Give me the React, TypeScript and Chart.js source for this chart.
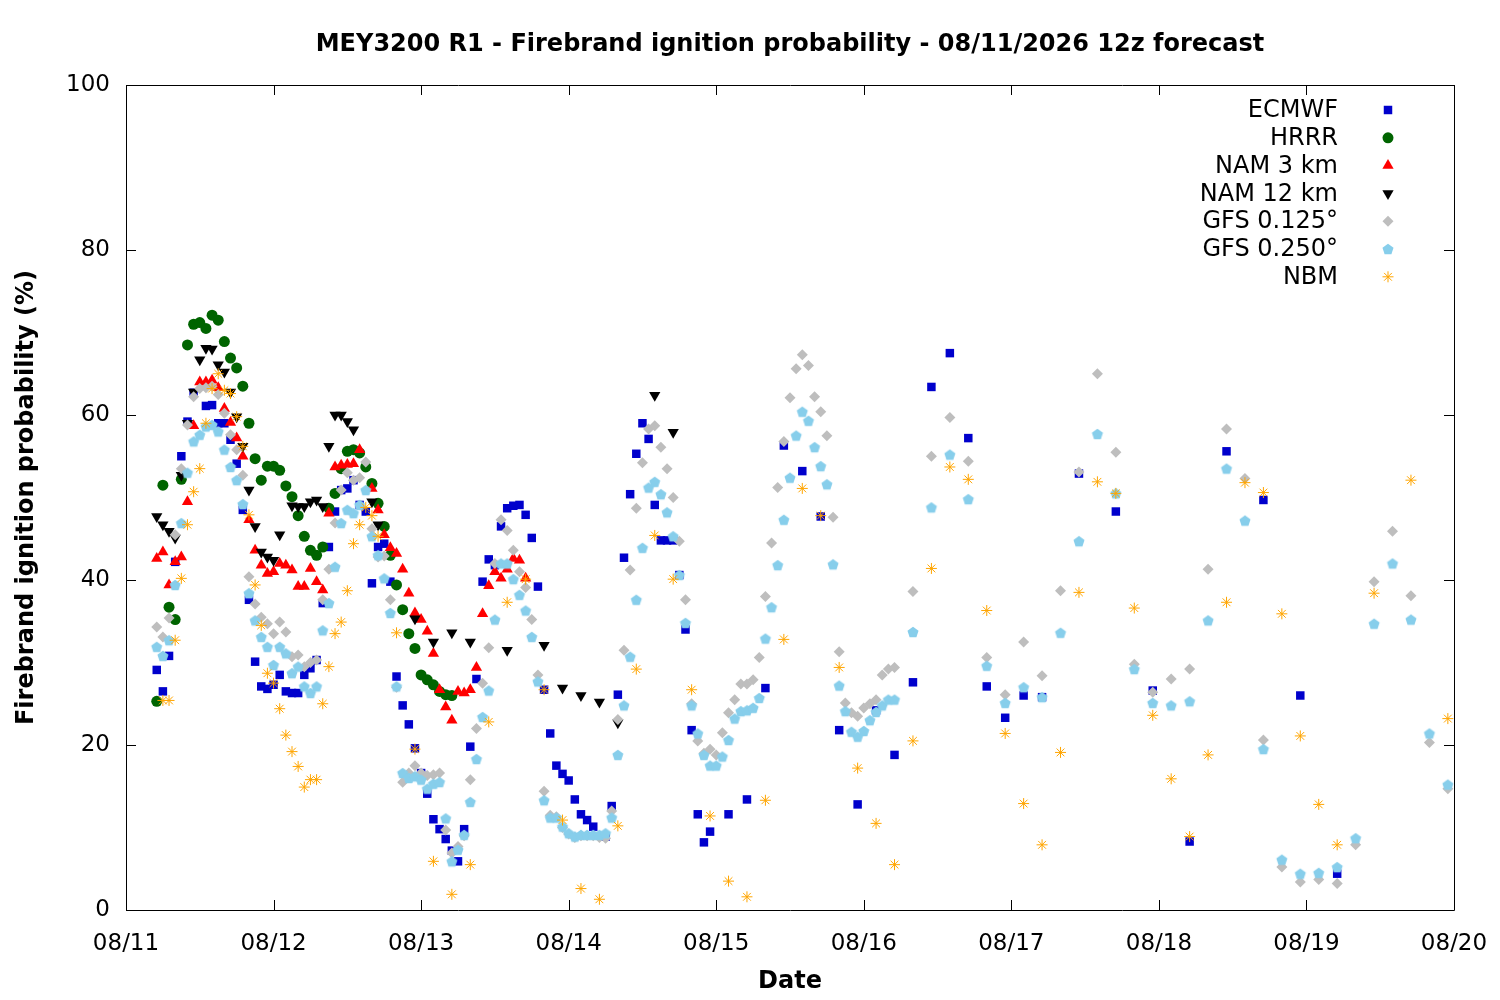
import { useEffect, useRef } from "react";
import { Chart, registerables, ChartConfiguration, Plugin } from "chart.js";
import { drawPoint } from "chart.js/helpers";

Chart.register(...registerables);

const FONT = "'DejaVu Sans', sans-serif";

const dateLabels = ["08/11", "08/12", "08/13", "08/14", "08/15", "08/16", "08/17", "08/18", "08/19", "08/20"];
const yTicks = [0, 20, 40, 60, 80, 100];

// [hours since 08/11 00, probability %]
const ecmwf: [number, number][] = [
  [5, 29.1], [6, 26.5], [7, 30.8], [8, 42.2], [9, 55.0], [10, 59.2], [11, 62.7], [13, 61.1], [14, 61.2], [15, 59.0],
  [16, 59.0], [17, 57.0], [18, 54.1], [19, 48.5], [20, 37.6], [21, 30.1], [22, 27.1], [23, 26.8], [24, 27.3], [25, 28.5],
  [26, 26.5], [27, 26.3], [28, 26.3], [29, 28.5], [30, 29.3], [31, 30.3], [32, 37.2], [33, 44.0], [34, 48.3], [35, 50.9],
  [36, 51.1], [37, 52.1], [38, 49.1], [39, 48.3], [40, 39.6], [41, 44.0], [42, 44.4], [43, 39.8], [44, 28.3], [45, 24.8],
  [46, 22.5], [47, 19.6], [48, 16.6], [49, 14.1], [50, 11.0], [51, 9.8], [52, 8.6], [53, 7.2], [54, 5.9], [55, 9.8],
  [56, 19.8], [57, 28.0], [58, 39.8], [59, 42.5], [60, 41.8], [61, 46.5], [62, 48.7], [63, 49.0], [64, 49.1], [65, 47.9],
  [66, 45.1], [67, 39.2], [68, 26.7], [69, 21.4], [70, 17.5], [71, 16.5], [72, 15.7], [73, 13.4], [74, 11.6], [75, 10.9],
  [76, 10.1], [78, 8.9], [79, 12.6], [80, 26.1], [81, 42.7], [82, 50.4], [83, 55.3], [84, 59.0], [85, 57.1], [86, 49.1],
  [87, 44.8], [88, 44.8], [89, 44.8], [90, 40.6], [91, 34.0], [92, 21.8], [93, 11.6], [94, 8.2], [95, 9.5], [98, 11.6],
  [101, 13.4], [104, 26.9], [107, 56.3], [110, 53.2], [113, 47.7], [116, 21.8], [119, 12.8], [122, 24.2], [125, 18.8],
  [128, 27.6], [131, 63.4], [134, 67.5], [137, 57.2], [140, 27.1], [143, 23.3], [146, 26.0], [149, 25.8], [155, 52.9],
  [161, 48.3], [167, 26.6], [173, 8.3], [179, 55.6], [185, 49.7], [191, 26.0], [197, 4.4],
];

const hrrr: [number, number][] = [
  [5, 25.3], [6, 51.5], [7, 36.7], [8, 35.2], [9, 52.2], [10, 68.5], [11, 71.0], [12, 71.2], [13, 70.5], [14, 72.1],
  [15, 71.5], [16, 68.9], [17, 66.9], [18, 65.7], [19, 63.5], [20, 59.0], [21, 54.7], [22, 52.1], [23, 53.8], [24, 53.8],
  [25, 53.3], [26, 51.4], [27, 50.1], [28, 47.8], [29, 45.3], [30, 43.6], [31, 43.0], [32, 44.0], [33, 48.7], [34, 50.5],
  [35, 53.5], [36, 55.6], [37, 55.8], [38, 55.4], [39, 53.7], [40, 51.7], [41, 49.3], [42, 46.5], [43, 43.0], [44, 39.4],
  [45, 36.4], [46, 33.5], [47, 31.7], [48, 28.5], [49, 27.9], [50, 27.3], [51, 26.5], [52, 26.1], [53, 26.0],
];

const nam3: [number, number][] = [
  [5, 42.6], [6, 43.4], [7, 39.4], [8, 42.2], [9, 42.8], [10, 49.5], [11, 58.7], [12, 64.0], [13, 64.0], [14, 64.2],
  [15, 63.3], [16, 60.8], [17, 59.1], [18, 57.2], [19, 55.0], [20, 47.3], [21, 43.6], [22, 41.8], [23, 40.8], [24, 41.0],
  [25, 42.0], [26, 41.8], [27, 41.2], [28, 39.2], [29, 39.2], [30, 41.4], [31, 39.8], [32, 38.8], [33, 48.1], [34, 53.7],
  [35, 53.9], [36, 54.0], [37, 54.1], [38, 55.8], [40, 51.1], [41, 48.5], [42, 45.5], [43, 43.9], [44, 43.2], [45, 41.3],
  [46, 38.4], [47, 36.0], [48, 35.2], [49, 33.8], [50, 31.1], [51, 26.7], [52, 24.6], [53, 23.0], [54, 26.5], [55, 26.3],
  [56, 26.7], [57, 29.4], [58, 35.9], [59, 39.3], [60, 41.0], [61, 40.2], [62, 41.3], [63, 42.6], [64, 42.4], [65, 40.2],
];

const nam12: [number, number][] = [
  [5, 47.7], [6, 46.7], [7, 45.9], [8, 45.1], [9, 52.7], [10, 59.0], [11, 62.8], [12, 66.7], [13, 68.1], [14, 68.0],
  [15, 66.1], [16, 65.2], [17, 62.8], [18, 59.8], [19, 56.2], [20, 50.9], [21, 46.5], [22, 43.4], [23, 42.8], [24, 42.4],
  [25, 45.5], [27, 49.0], [28, 48.9], [29, 48.9], [30, 49.5], [31, 49.7], [32, 48.9], [33, 56.2], [34, 60.0], [35, 60.0],
  [36, 59.2], [37, 58.2], [40, 49.5], [41, 46.7], [47, 35.3], [50, 32.5], [53, 33.6], [56, 32.5], [62, 31.5], [68, 32.1],
  [71, 26.9], [74, 26.0], [77, 25.2], [80, 22.7], [86, 62.4], [89, 57.9],
];

const gfs0125: [number, number][] = [
  [5, 34.3], [6, 33.1], [7, 35.4], [8, 45.5], [9, 53.5], [10, 58.8], [11, 62.2], [12, 63.2], [13, 63.3], [14, 63.5],
  [15, 62.5], [16, 60.2], [17, 57.6], [18, 55.8], [19, 52.7], [20, 40.4], [21, 37.1], [22, 35.5], [23, 34.7], [24, 33.5],
  [25, 34.9], [26, 33.7], [27, 30.7], [28, 30.9], [29, 29.5], [30, 30.0], [31, 30.3], [32, 37.6], [33, 41.3], [34, 46.9],
  [35, 50.9], [36, 53.0], [37, 52.1], [38, 52.4], [39, 54.3], [40, 46.2], [41, 42.8], [42, 42.9], [43, 37.6], [44, 27.0],
  [45, 15.5], [46, 16.6], [47, 17.5], [48, 16.6], [49, 16.3], [50, 16.4], [51, 16.6], [52, 9.7], [53, 6.9], [54, 7.7],
  [55, 9.0], [56, 15.8], [57, 22.0], [58, 27.5], [59, 31.8], [60, 42.0], [61, 47.3], [62, 46.0], [63, 43.6], [64, 41.0],
  [65, 39.1], [66, 35.2], [67, 28.5], [68, 14.4], [69, 11.5], [70, 11.3], [71, 10.0], [72, 9.2], [73, 8.8], [74, 9.0],
  [75, 9.0], [76, 9.0], [77, 8.8], [78, 8.7], [79, 12.0], [80, 23.1], [81, 31.5], [82, 41.2], [83, 48.7], [84, 54.2],
  [85, 58.3], [86, 58.7], [87, 56.1], [88, 53.5], [89, 50.0], [90, 44.7], [91, 37.6], [92, 25.0], [93, 20.5], [94, 19.0],
  [95, 19.5], [96, 18.8], [97, 21.5], [98, 23.9], [99, 25.5], [100, 27.4], [101, 27.4], [102, 27.9], [103, 30.6], [104, 38.0],
  [105, 44.5], [106, 51.2], [107, 56.8], [108, 62.1], [109, 65.6], [110, 67.3], [111, 66.0], [112, 62.2], [113, 60.4], [114, 57.5],
  [115, 47.6], [116, 31.3], [117, 25.1], [118, 23.9], [119, 23.5], [120, 24.5], [121, 25.0], [122, 25.5], [123, 28.5], [124, 29.2],
  [125, 29.4], [128, 38.6], [131, 55.0], [134, 59.7], [137, 54.4], [140, 30.6], [143, 26.1], [146, 32.5], [149, 28.4], [152, 38.7],
  [155, 53.1], [158, 65.0], [161, 55.5], [164, 29.8], [167, 26.4], [170, 28.0], [173, 29.2], [176, 41.3], [179, 58.3], [182, 52.3],
  [185, 20.6], [188, 5.2], [191, 3.4], [194, 3.7], [197, 3.2], [200, 7.9], [203, 39.8], [206, 45.9], [209, 38.1], [212, 20.3],
  [215, 14.7],
];

const gfs0250: [number, number][] = [
  [5, 31.9], [6, 30.8], [7, 32.7], [8, 39.4], [9, 46.9], [10, 53.0], [11, 56.8], [12, 57.6], [13, 58.6], [14, 58.8],
  [15, 58.0], [16, 55.8], [17, 53.7], [18, 52.1], [19, 49.2], [20, 38.4], [21, 35.1], [22, 33.1], [23, 31.9], [24, 29.7],
  [25, 31.9], [26, 31.1], [27, 28.7], [28, 29.5], [29, 27.1], [30, 26.3], [31, 27.1], [32, 33.9], [33, 37.2], [34, 41.6],
  [35, 46.9], [36, 48.5], [37, 48.1], [38, 49.1], [39, 50.9], [40, 45.3], [41, 43.0], [42, 40.2], [43, 36.0], [44, 27.1],
  [45, 16.6], [46, 16.0], [47, 16.2], [48, 15.8], [49, 14.7], [50, 15.3], [51, 15.5], [52, 11.1], [53, 5.9], [54, 7.3],
  [55, 9.1], [56, 13.1], [57, 18.3], [58, 23.4], [59, 26.6], [60, 35.2], [61, 42.0], [62, 42.0], [63, 40.1], [64, 38.2],
  [65, 36.3], [66, 33.1], [67, 27.7], [68, 13.3], [69, 11.2], [70, 11.2], [71, 10.1], [72, 9.3], [73, 8.9], [74, 9.1],
  [75, 9.1], [76, 9.1], [77, 9.1], [78, 9.3], [79, 11.2], [80, 18.8], [81, 24.8], [82, 30.7], [83, 37.6], [84, 43.9],
  [85, 51.2], [86, 51.9], [87, 50.4], [88, 48.2], [89, 45.3], [90, 40.6], [91, 34.8], [92, 24.8], [93, 21.4], [94, 18.8],
  [95, 17.5], [96, 17.5], [97, 18.6], [98, 20.6], [99, 23.2], [100, 24.1], [101, 24.2], [102, 24.5], [103, 25.7], [104, 32.9],
  [105, 36.7], [106, 41.8], [107, 47.3], [108, 52.4], [109, 57.5], [110, 60.4], [111, 59.3], [112, 56.1], [113, 53.8], [114, 51.6],
  [115, 41.9], [116, 27.2], [117, 24.1], [118, 21.6], [119, 21.0], [120, 21.7], [121, 23.0], [122, 24.0], [123, 24.8], [124, 25.5],
  [125, 25.5], [128, 33.7], [131, 48.8], [134, 55.2], [137, 49.8], [140, 29.6], [143, 25.1], [146, 27.0], [149, 25.8], [152, 33.6],
  [155, 44.7], [158, 57.7], [161, 50.5], [164, 29.2], [167, 25.1], [170, 24.8], [173, 25.3], [176, 35.1], [179, 53.5], [182, 47.2],
  [185, 19.5], [188, 6.1], [191, 4.4], [194, 4.5], [197, 5.2], [200, 8.7], [203, 34.7], [206, 42.0], [209, 35.2], [212, 21.4],
  [215, 15.2],
];

const nbm: [number, number][] = [
  [6, 25.4], [7, 25.4], [8, 32.7], [9, 40.2], [10, 46.7], [11, 50.7], [12, 53.5], [13, 59.0], [14, 63.2], [15, 65.0],
  [16, 63.0], [17, 62.6], [18, 59.8], [19, 56.2], [20, 47.9], [21, 39.4], [22, 34.5], [23, 28.7], [24, 27.5], [25, 24.4],
  [26, 21.2], [27, 19.2], [28, 17.4], [29, 14.9], [30, 15.8], [31, 15.8], [32, 25.0], [33, 29.5], [34, 33.5], [35, 34.9],
  [36, 38.7], [37, 44.4], [38, 46.7], [39, 48.8], [40, 47.8], [41, 45.3], [44, 33.6], [47, 19.5], [50, 5.9], [53, 1.9],
  [56, 5.5], [59, 22.8], [62, 37.3], [65, 40.1], [68, 26.7], [71, 10.9], [74, 2.6], [77, 1.3], [80, 10.2], [83, 29.2],
  [86, 45.4], [89, 40.1], [92, 26.7], [95, 11.4], [98, 3.5], [101, 1.6], [104, 13.3], [107, 32.8], [110, 51.1], [113, 47.8],
  [116, 29.4], [119, 17.2], [122, 10.5], [125, 5.5], [128, 20.5], [131, 41.4], [134, 53.7], [137, 52.2], [140, 36.3], [143, 21.4],
  [146, 12.9], [149, 7.9], [152, 19.1], [155, 38.5], [158, 51.9], [161, 50.5], [164, 36.6], [167, 23.6], [170, 15.9], [173, 8.9],
  [176, 18.8], [179, 37.3], [182, 51.8], [185, 50.6], [188, 35.9], [191, 21.1], [194, 12.8], [197, 7.9], [203, 38.4], [209, 52.1],
  [215, 23.2],
];

// filled pentagon marker (chart.js has no built-in one)
function pentagon(color: string, r: number) {
  const c = document.createElement("canvas");
  const size = Math.ceil(r * 2) + 2;
  c.width = size;
  c.height = size;
  const ctx = c.getContext("2d")!;
  ctx.fillStyle = color;
  ctx.beginPath();
  for (let i = 0; i < 5; i++) {
    const a = -Math.PI / 2 + (i * 2 * Math.PI) / 5;
    const px = size / 2 + r * Math.cos(a);
    const py = size / 2 + 0.6 + r * Math.sin(a);
    if (i === 0) ctx.moveTo(px, py);
    else ctx.lineTo(px, py);
  }
  ctx.closePath();
  ctx.fill();
  return c;
}

interface Series {
  label: string;
  data: [number, number][];
  color: string;
  style: any;
  radius: number;
  rotation?: number;
  border?: number;
}

export default function App() {
  const chartRef = useRef<HTMLCanvasElement | null>(null);

  useEffect(() => {
    if (!chartRef.current) return;
    document.body.style.margin = "0";

    const series: Series[] = [
      { label: "ECMWF", data: ecmwf, color: "#0000cc", style: "rect", radius: 6 },
      { label: "HRRR", data: hrrr, color: "#006400", style: "circle", radius: 5.5 },
      { label: "NAM 3 km", data: nam3, color: "#ff0000", style: "triangle", radius: 6.5 },
      { label: "NAM 12 km", data: nam12, color: "#000000", style: "triangle", radius: 6.5, rotation: 180 },
      { label: "GFS 0.125°", data: gfs0125, color: "#bebebe", style: "rectRot", radius: 5.5 },
      { label: "GFS 0.250°", data: gfs0250, color: "#87ceeb", style: pentagon("#87ceeb", 5.8), radius: 6 },
      { label: "NBM", data: nbm, color: "#ffa500", style: "star", radius: 5.5, border: 1 },
    ];

    // inward ticks on all four sides plus the border box
    const framePlugin: Plugin<"scatter"> = {
      id: "frame",
      afterDatasetsDraw(chart) {
        const { ctx, chartArea: a, scales } = chart;
        ctx.save();
        ctx.strokeStyle = "#000";
        ctx.lineWidth = 1;
        ctx.beginPath();
        ctx.rect(Math.round(a.left) + 0.5, Math.round(a.top) + 0.5, Math.round(a.right - a.left), Math.round(a.bottom - a.top));
        yTicks.forEach((v) => {
          const y = Math.round(scales.y.getPixelForValue(v)) + 0.5;
          ctx.moveTo(a.left, y);
          ctx.lineTo(a.left + 10, y);
          ctx.moveTo(a.right, y);
          ctx.lineTo(a.right - 10, y);
        });
        dateLabels.forEach((_, i) => {
          const x = Math.round(scales.x.getPixelForValue(i * 24)) + 0.5;
          ctx.moveTo(x, a.bottom);
          ctx.lineTo(x, a.bottom - 10);
          ctx.moveTo(x, a.top);
          ctx.lineTo(x, a.top + 10);
        });
        ctx.stroke();
        ctx.restore();
      },
    };

    // gnuplot-style key: right-aligned text, marker to its right
    const keyPlugin: Plugin<"scatter"> = {
      id: "key",
      afterDraw(chart) {
        const { ctx, chartArea: a } = chart;
        ctx.save();
        ctx.font = `24px ${FONT}`;
        ctx.textAlign = "right";
        ctx.textBaseline = "middle";
        series.forEach((s, i) => {
          const y = a.top + 25 + i * 27.8;
          ctx.fillStyle = "#000";
          ctx.fillText(s.label, a.right - 116, y + 1);
          ctx.fillStyle = s.color;
          ctx.strokeStyle = s.color;
          ctx.lineWidth = 1;
          drawPoint(ctx, { pointStyle: s.style, rotation: s.rotation || 0, radius: s.radius, borderWidth: s.border || 0 }, a.right - 66, y);
        });
        ctx.restore();
      },
    };

    const config: ChartConfiguration<"scatter"> = {
      type: "scatter",
      data: {
        datasets: series.map((s, i) => ({
          label: s.label,
          data: s.data.map(([h, v]) => ({ x: h, y: v })),
          order: series.length - i,
          pointStyle: s.style,
          pointRadius: s.radius,
          pointRotation: s.rotation || 0,
          pointBackgroundColor: s.color,
          pointBorderColor: s.color,
          pointBorderWidth: s.border || 0,
          showLine: false,
        })),
      },
      options: {
        responsive: false,
        animation: false,
        devicePixelRatio: 1,
        layout: { padding: { top: 0, left: 0, right: 46, bottom: 0 } },
        scales: {
          x: {
            type: "linear",
            min: 0,
            max: 216,
            grid: { display: false },
            border: { display: false },
            afterBuildTicks: (scale) => {
              scale.ticks = dateLabels.map((_, i) => ({ value: i * 24 }));
            },
            afterFit: (scale) => {
              scale.height = 90;
            },
            ticks: {
              color: "#000",
              font: { family: FONT, size: 23 },
              padding: 12,
              maxRotation: 0,
              autoSkip: false,
              callback: (value) => dateLabels[Math.round(Number(value) / 24)],
            },
            title: {
              display: true,
              text: "Date",
              color: "#000",
              font: { family: FONT, size: 24, weight: "bold" },
              padding: { top: 0, bottom: 4 },
            },
          },
          y: {
            min: 0,
            max: 100,
            grid: { display: false },
            border: { display: false },
            afterBuildTicks: (scale) => {
              scale.ticks = yTicks.map((v) => ({ value: v }));
            },
            afterFit: (scale) => {
              scale.width = 126;
            },
            ticks: {
              color: "#000",
              font: { family: FONT, size: 23 },
              padding: 8,
            },
            title: {
              display: true,
              text: "Firebrand ignition probability (%)",
              color: "#000",
              font: { family: FONT, size: 24, weight: "bold" },
              padding: { top: 12.6, bottom: 0 },
            },
          },
        },
        plugins: {
          legend: { display: false },
          tooltip: { enabled: false },
          title: {
            display: true,
            fullSize: false,
            text: "MEY3200 R1 - Firebrand ignition probability - 08/11/2026 12z forecast",
            color: "#000",
            font: { family: FONT, size: 24, weight: "bold" },
            padding: { top: 30.6, bottom: 25.6 },
          },
        },
      },
      plugins: [framePlugin, keyPlugin],
    };

    const chart = new Chart(chartRef.current, config);
    return () => {
      chart.destroy();
    };
  }, []);

  return (
    <div style={{ width: 1500, height: 1000, background: "#fff" }}>
      <canvas ref={chartRef} width={1500} height={1000}></canvas>
    </div>
  );
}
